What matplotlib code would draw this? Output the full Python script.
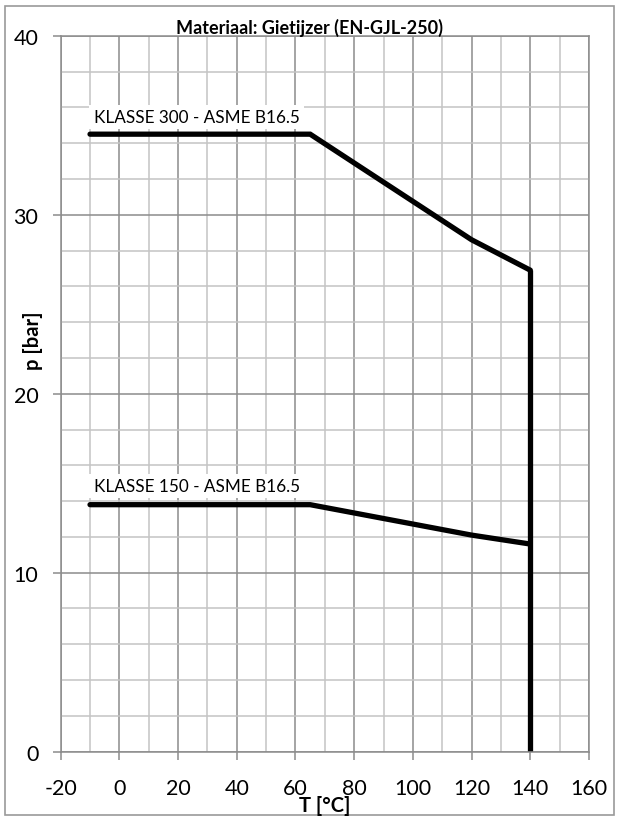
import matplotlib
matplotlib.use('Agg')
import matplotlib.pyplot as plt
from matplotlib.ticker import MultipleLocator
from matplotlib.patches import Rectangle

# ── DATA ───────────────────────────────────────────────
t_300 = [-10, 65, 120, 140]
p_300 = [34.5, 34.5, 28.6, 26.9]

t_150 = [-10, 65, 120, 140]
p_150 = [13.8, 13.8, 12.1, 11.6]

t_limit = [140, 140]
p_limit = [0, 26.9]

label_300 = 'KLASSE 300 - ASME B16.5'
label_150 = 'KLASSE 150 - ASME B16.5'

# ── FIGURE ─────────────────────────────────────────────
plt.rcParams['font.family'] = ['Lato', 'DejaVu Sans']
plt.rcParams['axes.unicode_minus'] = False

fig = plt.figure(figsize=(6.19, 8.2), dpi=100)
ax = fig.add_axes([0.098, 0.0821, 0.8536, 0.8731])

# outer chart border
fig.patches.append(Rectangle((5 / 619, 4 / 820), 609 / 619, 809 / 820,
                             transform=fig.transFigure, fill=False,
                             edgecolor='#9a9a9a', linewidth=1.2))

ax.set_xlim(-20, 160)
ax.set_ylim(0, 40)
ax.xaxis.set_major_locator(MultipleLocator(20))
ax.xaxis.set_minor_locator(MultipleLocator(10))
ax.yaxis.set_major_locator(MultipleLocator(10))
ax.yaxis.set_minor_locator(MultipleLocator(2))

ax.grid(which='major', color='#8c8c8c', linewidth=1.1)
ax.grid(which='minor', color='#c4c4c4', linewidth=1.1)
ax.set_axisbelow(True)

for s in ax.spines.values():
    s.set_color('#8c8c8c')
    s.set_linewidth(1.1)

ax.tick_params(which='major', direction='out', length=6, width=1.1,
               color='#8c8c8c', labelsize=15.5)
ax.tick_params(axis='x', which='major', pad=13)
ax.tick_params(axis='y', which='major', pad=10)
ax.tick_params(which='minor', length=0)

# pressure-temperature curves
lw = 3.8
ax.plot(t_300, p_300, color='black', linewidth=lw,
        solid_capstyle='round', solid_joinstyle='miter')
ax.plot(t_150, p_150, color='black', linewidth=lw,
        solid_capstyle='round', solid_joinstyle='miter')
ax.plot(t_limit, p_limit, color='black', linewidth=lw,
        solid_capstyle='butt')

box = dict(facecolor='white', edgecolor='none', pad=3)
ax.text(-8.8, 35.45, label_300, fontsize=12.3, va='center', ha='left', bbox=box)
ax.text(-8.8, 14.85, label_150, fontsize=12.3, va='center', ha='left', bbox=box)

fig.text(0.5, 0.966, 'Materiaal: Gietijzer (EN-GJL-250)', ha='center',
         va='center', fontsize=13, fontweight='bold')
fig.text(325 / 619, 1 - 806 / 820, 'T [°C]', ha='center', va='center',
         fontsize=14.5, fontweight='bold')
fig.text(33 / 619, 1 - 341 / 820, 'p [bar]', ha='center', va='center',
         rotation=90, fontsize=14.5, fontweight='bold')

fig.savefig('out.png', dpi=100)
